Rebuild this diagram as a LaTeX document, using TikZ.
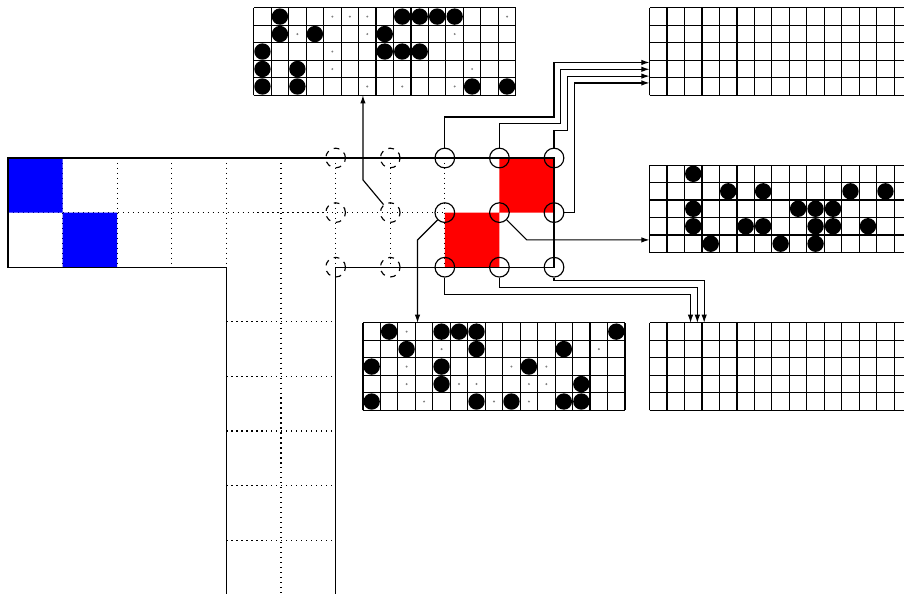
\documentclass[tikz,border=0pt]{standalone}
\usetikzlibrary{arrows.meta}

\tikzset{
  site/.style={circle, draw, line width=0.6pt, minimum size=3.6mm, inner sep=0pt},
  ghost/.style={site, dashed},
  wire/.style={line width=0.6pt},
  cut/.style={dotted, line width=0.6pt},
}
% a 15x5 board, #1 name, (#2,#3) its top left corner
\newcommand{\board}[3]{%
  \node[minimum width=4.8cm, minimum height=1.6cm, inner sep=0pt, anchor=north west] (#1) at (#2,#3) {};
  \draw[wire, shift={(#2,#3)}] (0,-1.601) grid[step=0.32] (4.801,0);
}

\begin{document}
\begin{tikzpicture}[>={Latex[length=1.5mm,width=1mm]}]
  \useasboundingbox (-0.147,-7.985) rectangle (16.41,2.894);

  % the matrix
  \draw[cut] (0,-1) -- (8,-1);
  \foreach \x in {1,2,3,4,6,7,8} \draw[cut] (\x,0) -- (\x,-2);
  \draw[cut] (5,0) -- (5,-8.2);
  \foreach \y in {3,...,7} \draw[cut] (4,-\y) -- (6,-\y);
  \fill[blue] (0,0) rectangle (1,-1) (1,-1) rectangle (2,-2);
  \fill[red] (9,0) rectangle (10,-1) (8,-1) rectangle (9,-2);
  \draw[wire] (4,-8.2) -- (4,-2) -- (0,-2) -- (0,0) -- (10,0) -- (10,-2) -- (6,-2) -- (6,-8.2);

  % sites
  \foreach \x in {6,7} \foreach \y in {0,1,2} \node[ghost] (c\x\y) at (\x,-\y) {};
  \foreach \x in {8,9,10} \foreach \y in {0,1,2} \node[site] (c\x\y) at (\x,-\y) {};

  % boards
  \board{tl}{4.5}{2.75}
  \board{tr}{11.75}{2.75}
  \board{mr}{11.75}{-0.13}
  \board{bm}{6.5}{-3.02}
  \board{br}{11.75}{-3.02}

  \begin{scope}[shift={(4.5,2.75)}]
    \foreach \c/\r in {1/0,8/0,9/0,10/0,11/0,1/1,3/1,7/1,0/2,7/2,8/2,9/2,0/3,2/3,0/4,2/4,12/4,14/4}
      \fill (\c*0.32+0.16,-\r*0.32-0.16) circle (0.15);
    \foreach \c/\r in {4/0,5/0,6/0,14/0,2/1,6/1,11/1,4/2,4/3,12/3,6/4,8/4,11/4}
      \fill[gray] (\c*0.32+0.16,-\r*0.32-0.16) circle (0.02);
  \end{scope}
  \begin{scope}[shift={(11.75,-0.13)}]
    \foreach \c/\r in {2/0,4/1,6/1,11/1,13/1,2/2,8/2,9/2,10/2,2/3,5/3,6/3,9/3,10/3,12/3,3/4,7/4,9/4}
      \fill (\c*0.32+0.16,-\r*0.32-0.16) circle (0.15);
  \end{scope}
  \begin{scope}[shift={(6.5,-3.02)}]
    \foreach \c/\r in {1/0,4/0,5/0,6/0,14/0,2/1,6/1,11/1,0/2,4/2,9/2,4/3,12/3,0/4,6/4,8/4,11/4,12/4}
      \fill (\c*0.32+0.16,-\r*0.32-0.16) circle (0.15);
    \foreach \c/\r in {2/0,4/1,13/1,2/2,8/2,10/2,2/3,5/3,6/3,9/3,10/3,3/4,7/4,9/4}
      \fill[gray] (\c*0.32+0.16,-\r*0.32-0.16) circle (0.02);
  \end{scope}

  % ends of the arrows
  \coordinate (up) at (6.5,1.15);
  \coordinate (down) at (7.5,-3.02);
  \coordinate (side) at (11.75,-1.5);
  \foreach \k in {1,...,4} \coordinate (tr\k) at (11.75,1.875-\k*0.125);
  \foreach \k in {1,2,3} \coordinate (br\k) at (12.375+\k*0.125,-3.02);

  \draw[wire,->] (c71) -- (6.5,-0.4) -- (up);
  \draw[wire,->] (c81) -- (7.5,-1.5) -- (down);
  \draw[wire,->] (c91) -- (9.5,-1.5) -- (side);
  \draw[wire,->] (c80) |- (10,0.75) |- (tr1);
  \draw[wire,->] (c90) |- (10.125,0.625) |- (tr2);
  \draw[wire,->] (c100) |- (10.25,0.5) |- (tr3);
  \draw[wire,->] (c101) -| (10.375,1.375) -- (tr4);
  \draw[wire,->] (c82) |- (12.5,-2.5) -- (br1);
  \draw[wire,->] (c92) |- (12.625,-2.375) -- (br2);
  \draw[wire,->] (c102) |- (12.75,-2.25) -- (br3);
\end{tikzpicture}
\end{document}
